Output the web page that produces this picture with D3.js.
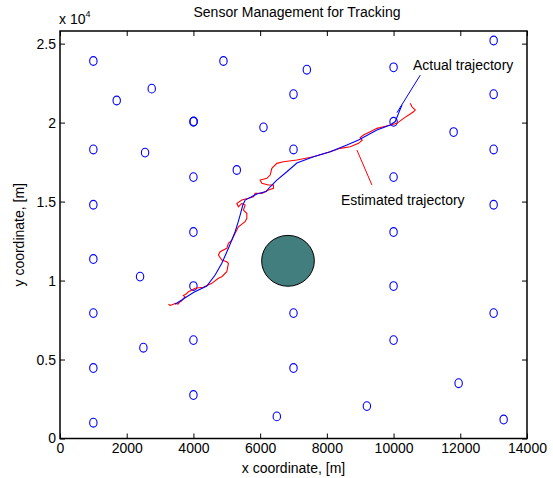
<!DOCTYPE html>
<html>
<head>
<meta charset="utf-8">
<script src="https://cdn.jsdelivr.net/npm/d3@7"></script>
<style>
  body { margin: 0; background: #fff; }
  text { font-family: "Liberation Sans", Arial, sans-serif; fill: #000; }
</style>
</head>
<body>
<div id="chart"></div>
<script>
// sensor positions [m]
var sensorX = [1000, 1700, 2750, 4900, 7400, 10000, 13000, 7000, 13000, 4000, 4010, 6100, 10000, 11800,
    1000, 2550, 7000, 13000, 4000, 5300, 10000, 1000, 13000, 4000, 10000, 1000, 2400, 4000, 10000,
    1000, 7000, 13000, 2500, 4000, 10000, 1000, 7000, 11950, 4000, 6500, 9200, 1000, 13300];
var sensorY = [23900, 21400, 22150, 23900, 23350, 23500, 25200, 21800, 21800, 20050, 20080, 19700, 20050, 19400,
    18300, 18100, 18300, 18300, 16550, 17000, 16550, 14800, 14800, 13070, 13070, 11360, 10250, 9650, 9650,
    7940, 7940, 7940, 5750, 6230, 6230, 4460, 4460, 3500, 2750, 1400, 2050, 1000, 1200];

// actual trajectory
var actualX = [3450, 3999, 4401, 4650, 4851, 5049, 5151, 5250, 5340, 5400, 5481, 5550, 5700, 5901, 6180,
    6300, 6501, 6801, 7101, 7599, 8100, 8601, 8949, 9501, 9900, 10050, 10149, 10251];
var actualY = [8495, 9242, 9653, 10350, 11090, 12040, 12565, 13090, 13704, 14148, 14781, 15097, 15255, 15477, 15635,
    15939, 16363, 16888, 17439, 17838, 18154, 18579, 18895, 19528, 19845, 20066, 20585, 21111];

// estimated trajectory
var estX = [3249, 3300, 3360, 3420, 3450, 3540, 3600, 3640, 3690, 3750, 3700, 3780, 3849, 3960, 4050, 4299, 4551,
    4749, 4851, 5001, 5049, 5001, 4851, 4749, 4800, 5001, 5049, 5151, 5250, 5349, 5550, 5601, 5601, 5499, 5550,
    5451, 5349, 5301, 5451, 5649, 5799, 5850, 6051, 6249, 6399, 6399, 6249, 6051, 6000, 6201, 6300, 6351, 6501,
    6699, 7101, 7599, 8100, 8400, 8700, 8949, 9060, 9000, 9099, 9300, 9501, 9699, 9900, 10101, 10299, 10599,
    10650, 10551, 10500];
var estY = [8495, 8430, 8463, 8520, 8558, 8514, 8659, 8700, 8830, 8976, 9050, 9147, 9292, 9400, 9508, 9571, 9824,
    10141, 10242, 10558, 11090, 11191, 11299, 11616, 11824, 12040, 12356, 12565, 12989, 13407, 13723, 13939,
    14255, 14464, 14781, 14888, 14673, 14888, 15097, 15205, 15306, 15522, 15522, 15730, 15838, 16047, 16047,
    16154, 16363, 16471, 16680, 17104, 17420, 17521, 17629, 17838, 18154, 18370, 18471, 18686, 18895, 19053,
    19212, 19420, 19636, 19737, 19845, 19952, 20269, 20686, 20794, 21003, 21218];

// obstacle: centre and half widths [m]
var obstacleX = 6835, obstacleY = 11250, obstacleRx = 790, obstacleRy = 1610;

// annotations
var labelTexts = ["Actual trajectory", "Estimated trajectory"];
var labelX = [10581, 8421], labelY = [23330, 14780];
var pointerX1 = [10101, 8901], pointerY1 = [20630, 18262];
var pointerX2 = [10800, 9351], pointerY2 = [23006, 16047];
var pointerColor = ["#0000ff", "#ff0000"];

var xTicks = [0, 2000, 4000, 6000, 8000, 10000, 12000, 14000];
var yTicks = [0, 5000, 10000, 15000, 20000, 25000];
var yTickLabels = ["0", "0.5", "1", "1.5", "2", "2.5"];

const W = 553, H = 478;
const margin = { top: 31, right: 26, bottom: 39.5, left: 60 };
const fontSize = "14px";

var svg = d3.select("#chart").append("svg")
    .attr("width", W)
    .attr("height", H)

var x = d3.scaleLinear().domain([0, 14000]).range([margin.left, W - margin.right]);
var y = d3.scaleLinear().domain([0, 25800]).range([H - margin.bottom, margin.top]);

// title
svg.append("text")
    .attr("x", 297).attr("y", 17)
    .attr("text-anchor", "middle")
    .style("font-size", fontSize)
    .text("Sensor Management for Tracking");

// exponent label
var expo = svg.append("text").attr("x", 59).attr("y", 24).style("font-size", fontSize);
expo.append("tspan").text("x 10");
expo.append("tspan").attr("dy", -7).style("font-size", "9px").text("4");

// axes (ticks pointing inward)
svg.append("g")
    .attr("transform", "translate(0," + y(0) + ")")
    .call(d3.axisBottom(x).tickValues(xTicks).tickSizeInner(-5).tickSizeOuter(0).tickPadding(5).tickFormat(d3.format("d")))
    .call(g => g.select(".domain").remove())
    .call(g => g.selectAll("text").style("font-size", fontSize).style("font-family", "Liberation Sans, Arial, sans-serif"));

svg.append("g")
    .attr("transform", "translate(0," + y(25800) + ")")
    .call(d3.axisTop(x).tickValues(xTicks).tickSizeInner(-5).tickSizeOuter(0).tickFormat(""))
    .call(g => g.select(".domain").remove());

svg.append("g")
    .attr("transform", "translate(" + x(0) + ",0)")
    .call(d3.axisLeft(y).tickValues(yTicks).tickSizeInner(-5).tickSizeOuter(0).tickPadding(4)
        .tickFormat((d, i) => yTickLabels[i]))
    .call(g => g.select(".domain").remove())
    .call(g => g.selectAll("text").style("font-size", fontSize).style("font-family", "Liberation Sans, Arial, sans-serif"));

svg.append("g")
    .attr("transform", "translate(" + x(14000) + ",0)")
    .call(d3.axisRight(y).tickValues(yTicks).tickSizeInner(-5).tickSizeOuter(0).tickFormat(""))
    .call(g => g.select(".domain").remove());

svg.selectAll(".tick line").attr("stroke", "#000");

// axis labels
svg.append("text")
    .attr("x", (x(0) + x(14000)) / 2).attr("y", 473)
    .attr("text-anchor", "middle")
    .style("font-size", fontSize)
    .text("x coordinate, [m]");

svg.append("text")
    .attr("transform", "translate(24," + (y(0) + y(25800)) / 2 + ") rotate(-90)")
    .attr("text-anchor", "middle")
    .style("font-size", fontSize)
    .text("y coordinate, [m]");

// sensors
svg.append("g").selectAll("ellipse")
    .data(sensorX)
    .join("ellipse")
    .attr("cx", (d, i) => x(sensorX[i]))
    .attr("cy", (d, i) => y(sensorY[i]))
    .attr("rx", 3.7)
    .attr("ry", 4.4)
    .attr("fill", "none")
    .attr("stroke", "#0000ff")
    .attr("stroke-width", 1.1);

// obstacle
svg.append("ellipse")
    .attr("cx", x(obstacleX))
    .attr("cy", y(obstacleY))
    .attr("rx", x(obstacleX + obstacleRx) - x(obstacleX))
    .attr("ry", y(obstacleY) - y(obstacleY + obstacleRy))
    .attr("fill", "#427e7d")
    .attr("stroke", "#000")
    .attr("stroke-width", 1);

// trajectories
var line = d3.line().x(d => x(d[0])).y(d => y(d[1]));

svg.append("path")
    .datum(estX.map((d, i) => [d, estY[i]]))
    .attr("d", line)
    .attr("fill", "none")
    .attr("stroke", "#ff0000")
    .attr("stroke-width", 1.1);

svg.append("path")
    .datum(actualX.map((d, i) => [d, actualY[i]]))
    .attr("d", line)
    .attr("fill", "none")
    .attr("stroke", "#0000ff")
    .attr("stroke-width", 1.1);

// annotation pointers + text
svg.append("g").selectAll("line")
    .data(pointerX1)
    .join("line")
    .attr("x1", (d, i) => x(pointerX1[i]))
    .attr("y1", (d, i) => y(pointerY1[i]))
    .attr("x2", (d, i) => x(pointerX2[i]))
    .attr("y2", (d, i) => y(pointerY2[i]))
    .attr("stroke", (d, i) => pointerColor[i])
    .attr("stroke-width", 1);

svg.append("g").selectAll("text")
    .data(labelTexts)
    .join("text")
    .attr("x", (d, i) => x(labelX[i]))
    .attr("y", (d, i) => y(labelY[i]))
    .style("font-size", fontSize)
    .text(d => d);

// box
svg.append("rect")
    .attr("x", x(0)).attr("y", y(25800))
    .attr("width", x(14000) - x(0))
    .attr("height", y(0) - y(25800))
    .attr("fill", "none")
    .attr("stroke", "#000")
    .attr("stroke-width", 1.5);
</script>
</body>
</html>
